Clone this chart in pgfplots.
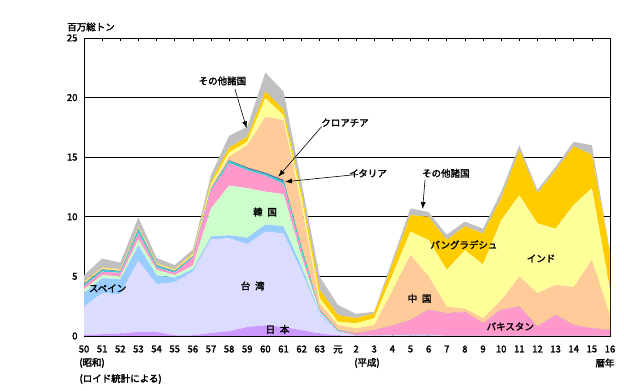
\documentclass[border=0pt]{standalone}
\usepackage{pgfplots}
\usepackage{pgfplotstable}
\pgfplotsset{compat=1.18}
\usetikzlibrary{arrows.meta}
\usepackage{fontspec}
\setmainfont{Noto Sans CJK JP}[FakeBold=2.2]
\newcommand{\lf}{\fontsize{9.5}{11}\selectfont}
\definecolor{cJ}{HTML}{CC99FF}
\definecolor{cT}{HTML}{DCDCFF}
\definecolor{cS}{HTML}{99CCFF}
\definecolor{cK}{HTML}{CCFFCC}
\definecolor{cP}{HTML}{FF99CC}
\definecolor{cC}{HTML}{33CCCC}
\definecolor{cI}{HTML}{666699}
\definecolor{cCh}{HTML}{FFCC99}
\definecolor{cIn}{HTML}{FFFF99}
\definecolor{cB}{HTML}{FFCC00}
\definecolor{cO}{HTML}{C0C0C0}
\pgfplotsset{layers/mylayers/.define layer set={axis background,axis grid,pre main,main,axis ticks,axis lines,axis tick labels,axis descriptions,axis foreground}{}}
\pgfplotstableread{
x J T S K P C I Ch In B O
0 0.10 2.35 1.15 0.30 0.30 0.15 0.05 0.05 0.05 0.05 0.55
1 0.15 3.45 1.25 0.25 0.30 0.15 0.05 0.05 0.05 0.05 0.75
2 0.20 3.30 1.25 0.25 0.30 0.10 0.05 0.05 0.05 0.05 0.55
3 0.35 5.95 1.30 0.50 0.55 0.30 0.05 0.05 0.05 0.05 0.80
4 0.35 4.00 0.75 0.45 0.20 0.15 0.05 0.05 0.05 0.05 0.45
5 0.05 4.45 0.40 0.20 0.20 0.10 0.05 0.05 0.05 0.05 0.35
6 0.05 5.35 0.20 0.30 0.70 0.10 0.02 0.03 0.10 0.10 0.30
7 0.25 7.85 0.25 2.35 1.50 0.10 0.05 0.15 0.20 0.25 0.55
8 0.40 7.80 0.25 4.15 1.90 0.20 0.05 0.30 0.35 0.40 1.00
9 0.75 6.95 0.55 4.15 1.50 0.15 0.10 1.85 0.30 0.40 0.85
10 0.90 7.85 0.60 2.75 1.35 0.15 0.10 4.70 1.55 0.55 1.60
11 0.75 7.85 0.60 2.70 0.85 0.20 0.15 5.00 0.40 0.50 1.50
12 0.50 4.90 0.40 0.80 0.40 0.30 0.10 3.50 0.60 0.50 0.80
13 0.20 1.56 0.14 0.10 0.10 0.08 0.02 0.54 0.42 0.70 1.11
14 0.05 0.25 0.05 0.03 0.07 0.05 0.02 0.40 0.28 0.56 0.84
15 0.00 0.02 0.01 0.01 0.16 0.01 0.01 0.43 0.42 0.43 0.35
16 0.00 0.00 0.02 0.01 0.47 0.00 0.00 0.42 0.56 0.42 0.14
17 0.00 0.00 0.03 0.03 0.80 0.00 0.00 2.95 1.30 0.90 0.35
18 0.00 0.00 0.05 0.05 1.24 0.00 0.00 5.46 1.95 1.40 0.55
19 0.00 0.00 0.05 0.05 2.10 0.00 0.00 2.80 3.05 1.95 0.40
20 0.00 0.00 0.00 0.00 1.90 0.00 0.00 0.56 3.09 2.50 0.45
21 0.00 0.00 0.00 0.00 2.00 0.00 0.00 0.30 4.90 2.00 0.40
22 0.00 0.00 0.00 0.00 1.07 0.00 0.00 0.43 4.50 2.60 0.40
23 0.00 0.00 0.00 0.00 2.20 0.00 0.00 0.80 6.70 1.85 0.55
24 0.00 0.00 0.00 0.00 2.46 0.00 0.00 2.54 6.80 3.80 0.40
25 0.00 0.00 0.00 0.00 0.80 0.00 0.00 2.80 5.85 2.55 0.25
26 0.00 0.00 0.00 0.00 1.76 0.00 0.00 2.54 4.70 4.90 0.30
27 0.00 0.00 0.00 0.00 0.92 0.00 0.00 3.18 6.90 4.90 0.40
28 0.00 0.00 0.00 0.00 0.65 0.00 0.00 5.75 6.00 2.80 0.80
29 0.00 0.00 0.00 0.00 0.50 0.00 0.00 1.26 2.10 3.14 0.10
}\data
\begin{document}
\begin{tikzpicture}
\begin{axis}[
  at={(84pt,55pt)}, anchor=south west, scale only axis,
  width=526pt, height=298pt,
  set layers=mylayers,
  xmin=0, xmax=29, ymin=0, ymax=25,
  stack plots=y,
  xtick={0,...,29},
  xticklabels={50,51,52,53,54,55,56,57,58,59,60,61,62,63,元,2,3,4,5,6,7,8,9,10,11,12,13,14,15,16},
  ytick={0,5,10,15,20,25},
  ymajorgrids, grid style={black, line width=0.8pt},
  axis line style={black, line width=0.8pt},
  tick align=inside, major tick length=3pt,
  xtick style={black, line width=0.6pt},
  ytick style={draw=none},
  tick label style={font=\lf},
  xticklabel style={yshift=-6pt},
  yticklabel style={xshift=-3pt},
  /pgf/number format/assume math mode=true,
]
\addplot[fill=cJ, draw=none] table[x=x,y=J]{\data} \closedcycle;
\addplot[fill=cT, draw=none] table[x=x,y=T]{\data} \closedcycle;
\addplot[fill=cS, draw=none] table[x=x,y=S]{\data} \closedcycle;
\addplot[fill=cK, draw=none] table[x=x,y=K]{\data} \closedcycle;
\addplot[fill=cP, draw=none] table[x=x,y=P]{\data} \closedcycle;
\addplot[fill=cC, draw=none] table[x=x,y=C]{\data} \closedcycle;
\addplot[fill=cI, draw=none] table[x=x,y=I]{\data} \closedcycle;
\addplot[fill=cCh, draw=none] table[x=x,y=Ch]{\data} \closedcycle;
\addplot[fill=cIn, draw=none] table[x=x,y=In]{\data} \closedcycle;
\addplot[fill=cB, draw=none] table[x=x,y=B]{\data} \closedcycle;
\addplot[fill=cO, draw=none] table[x=x,y=O]{\data} \closedcycle;
\coordinate (Lspain) at (axis cs:1.3,4.0);
\coordinate (Ltw) at (axis cs:9.3,4.2);
\coordinate (Lkr) at (axis cs:9.98,10.4);
\coordinate (Ljp) at (axis cs:10.67,0.55);
\coordinate (Lcn) at (axis cs:18.5,3.15);
\coordinate (Lpk) at (axis cs:23.5,0.8);
\coordinate (Lbd) at (axis cs:20.95,7.65);
\coordinate (Lin) at (axis cs:25.2,6.5);
\coordinate (Lo1) at (axis cs:7.63,21.4);
\coordinate (Lo2) at (axis cs:19.95,13.65);
\coordinate (Lhr) at (axis cs:14.39,17.9);
\coordinate (Lit) at (axis cs:15.66,13.65);
\coordinate (A1s) at (axis cs:8.32,20.72);
\coordinate (A1e) at (axis cs:8.97,17.42);
\coordinate (A2s) at (axis cs:18.8,13.1);
\coordinate (A2e) at (axis cs:18.67,10.65);
\coordinate (A3s) at (axis cs:13.1,17.56);
\coordinate (A3e) at (axis cs:10.71,13.36);
\coordinate (A4s) at (axis cs:15.12,13.56);
\coordinate (A4e) at (axis cs:11.08,12.94);
\end{axis}
\node[font=\lf] at (Lspain) {スペイン};
\node[font=\lf] at (Ltw) {台\enspace 湾};
\node[font=\lf] at (Lkr) {韓\enspace 国};
\node[font=\lf] at (Ljp) {日\enspace 本};
\node[font=\lf] at (Lcn) {中\enspace 国};
\node[font=\lf] at (Lpk) {パキスタン};
\node[font=\lf] at (Lbd) {バングラデシュ};
\node[font=\lf] at (Lin) {インド};
\node[font=\lf] at (Lo1) {その他諸国};
\node[font=\lf] at (Lo2) {その他諸国};
\node[font=\lf] at (Lhr) {クロアチア};
\node[font=\lf] at (Lit) {イタリア};
\draw[-{Latex[length=7pt,width=5pt]}, line width=0.6pt] (A1s) -- (A1e);
\draw[-{Latex[length=7pt,width=5pt]}, line width=0.6pt] (A2s) -- (A2e);
\draw[-{Latex[length=7pt,width=5pt]}, line width=0.6pt] (A3s) -- (A3e);
\draw[-{Latex[length=7pt,width=5pt]}, line width=0.6pt] (A4s) -- (A4e);
\node[font=\lf] at (91pt,364pt) {百万総トン};
\node[font=\lf] at (92pt,28pt) {(昭和)};
\node[font=\lf] at (367pt,28pt) {(平成)};
\node[font=\lf] at (605pt,28pt) {暦年};
\node[font=\lf, anchor=west] at (76pt,12pt) {(ロイド統計による)};
\path[use as bounding box] (0pt,0pt) rectangle (624pt,391pt);
\end{tikzpicture}
\end{document}
